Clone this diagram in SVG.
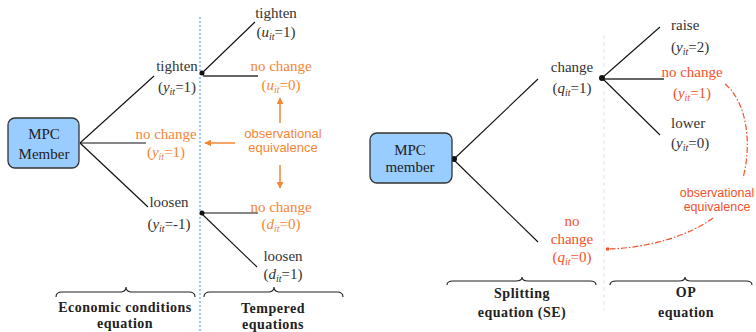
<svg xmlns="http://www.w3.org/2000/svg" width="756" height="332" viewBox="0 0 756 332">
<defs>
<style>
.lbl{font-family:"Liberation Serif",serif;font-size:15px;fill:#333;text-anchor:middle}
.or{fill:#f58634}
.rd{fill:#f4522c}
.obs{font-family:"Liberation Sans",Arial,sans-serif;font-size:13px;text-anchor:middle}
.hd{font-family:"Liberation Serif",serif;font-size:14px;font-weight:bold;fill:#222;text-anchor:middle;letter-spacing:0.5px}
.it{font-style:italic}
.box{fill:#99ccff;stroke:#333;stroke-width:1.3}
.ln{stroke:#111;stroke-width:1.1;fill:none}
.gl{stroke:#666;stroke-width:2;fill:none}
.br{stroke:#222;stroke-width:1.1;fill:none}
.oa{stroke:#f58634;stroke-width:1.5;fill:none;marker-end:url(#ah)}
</style>
<marker id="ah" viewBox="0 0 10 10" refX="9" refY="5" markerWidth="7" markerHeight="7" markerUnits="userSpaceOnUse" orient="auto">
<path d="M0,0 L10,5 L0,10 z" fill="#f58634"/>
</marker>
</defs>

<!-- separators -->
<line x1="200" y1="17" x2="200" y2="332" stroke="#7ab8f5" stroke-width="1.5" stroke-dasharray="2 2"/>
<line x1="604" y1="35" x2="604" y2="310" stroke="#dde4f0" stroke-width="1" stroke-dasharray="4 3"/>

<!-- connectors -->
<g id="connectors">
<line class="ln" x1="80" y1="143" x2="154" y2="76"/>
<line class="ln" x1="80" y1="143" x2="146" y2="143"/>
<line class="ln" x1="80" y1="143" x2="148" y2="207"/>
<line class="ln" x1="202" y1="73" x2="255" y2="22"/>
<line class="gl" x1="203" y1="76" x2="258" y2="76"/>
<line class="ln" x1="202" y1="213" x2="258" y2="213"/>
<line class="ln" x1="202" y1="214" x2="257" y2="267"/>
<line class="oa" x1="280" y1="123" x2="280" y2="98"/>
<line class="oa" x1="235" y1="143" x2="205" y2="143"/>
<line class="oa" x1="280" y1="165" x2="280" y2="188"/>
<line class="ln" x1="454" y1="159" x2="538" y2="79"/>
<line class="ln" x1="454" y1="160" x2="538" y2="242"/>
<line class="ln" x1="602" y1="78" x2="660" y2="27"/>
<line class="gl" x1="602" y1="79" x2="664" y2="79"/>
<line class="ln" x1="602" y1="78" x2="660" y2="135"/>
<path d="M725,84 C745,100 753,140 743,178" stroke="#f4522c" stroke-width="1.2" fill="none" stroke-dasharray="6 2 1.5 2"/>
<path d="M713,218 C690,235 650,248 608,249" stroke="#f4522c" stroke-width="1.2" fill="none" stroke-dasharray="6 2 1.5 2"/>
<rect x="606" y="247.5" width="3" height="3" fill="#f4522c"/>
<circle cx="202" cy="73" r="2.5" fill="#111"/>
<circle cx="202" cy="213" r="2.5" fill="#111"/>
<circle cx="454" cy="159" r="3" fill="#111"/>
<circle cx="602" cy="78" r="3" fill="#111"/>
</g>

<!-- left tree -->
<g id="mpc-left">
<rect class="box" x="8" y="118" width="71" height="50" rx="7"/>
<text class="lbl" x="44" y="139" style="fill:#222">MPC</text>
<text class="lbl" x="44" y="159" style="fill:#222">Member</text>
</g>
<g id="y-tighten">
<text class="lbl" x="177" y="71">tighten</text>
<text class="lbl" x="177" y="92">(<tspan class="it">y</tspan><tspan class="it" font-size="10" dy="3">it</tspan><tspan dy="-3">=1)</tspan></text>
</g>
<g id="y-nochange">
<text class="lbl or" x="166" y="139">no change</text>
<text class="lbl or" x="166" y="157">(<tspan class="it">y</tspan><tspan class="it" font-size="10" dy="3">it</tspan><tspan dy="-3">=1)</tspan></text>
</g>
<g id="y-loosen">
<text class="lbl" x="169" y="207">loosen</text>
<text class="lbl" x="169" y="229">(<tspan class="it">y</tspan><tspan class="it" font-size="10" dy="3">it</tspan><tspan dy="-3">=-1)</tspan></text>
</g>
<g id="u-tighten">
<text class="lbl" x="276" y="18">tighten</text>
<text class="lbl" x="276" y="37">(<tspan class="it">u</tspan><tspan class="it" font-size="10" dy="3">it</tspan><tspan dy="-3">=1)</tspan></text>
</g>
<g id="u-nochange">
<text class="lbl or" x="281" y="71">no change</text>
<text class="lbl or" x="281" y="90">(<tspan class="it">u</tspan><tspan class="it" font-size="10" dy="3">it</tspan><tspan dy="-3">=0)</tspan></text>
</g>
<g id="obs-left">
<text class="obs or" x="283" y="138">observational</text>
<text class="obs or" x="283" y="152">equivalence</text>
</g>
<g id="d-nochange">
<text class="lbl or" x="281" y="212">no change</text>
<text class="lbl or" x="281" y="229">(<tspan class="it">d</tspan><tspan class="it" font-size="10" dy="3">it</tspan><tspan dy="-3">=0)</tspan></text>
</g>
<g id="d-loosen">
<text class="lbl" x="283" y="261">loosen</text>
<text class="lbl" x="283" y="279">(<tspan class="it">d</tspan><tspan class="it" font-size="10" dy="3">it</tspan><tspan dy="-3">=1)</tspan></text>
</g>
<g id="brace-econ">
<path class="br" d="M56,297 Q56,292 62,292 L120,292 Q126,292 126,287 Q126,292 132,292 L189,292 Q195,292 195,297"/>
<text class="hd" x="125" y="312">Economic conditions</text>
<text class="hd" x="125" y="328">equation</text>
</g>
<g id="brace-temp">
<path class="br" d="M204,297 Q204,292 210,292 L268,292 Q274,292 274,287 Q274,292 280,292 L337,292 Q343,292 343,297"/>
<text class="hd" x="273" y="313">Tempered</text>
<text class="hd" x="273" y="329">equations</text>
</g>

<!-- right tree -->
<g id="mpc-right">
<rect class="box" x="370" y="133" width="82" height="50" rx="7"/>
<text class="lbl" x="410" y="155" style="fill:#222">MPC</text>
<text class="lbl" x="410" y="172" style="fill:#222">member</text>
</g>
<g id="q-change">
<text class="lbl" x="572" y="72">change</text>
<text class="lbl" x="572" y="93">(<tspan class="it">q</tspan><tspan class="it" font-size="10" dy="3">it</tspan><tspan dy="-3">=1)</tspan></text>
</g>
<g id="q-nochange">
<text class="lbl rd" x="572" y="226">no</text>
<text class="lbl rd" x="572" y="244">change</text>
<text class="lbl rd" x="572" y="262">(<tspan class="it">q</tspan><tspan class="it" font-size="10" dy="3">it</tspan><tspan dy="-3">=0)</tspan></text>
</g>
<g id="y-raise">
<text class="lbl" x="671" y="30" style="text-anchor:start">raise</text>
<text class="lbl" x="671" y="52" style="text-anchor:start">(<tspan class="it">y</tspan><tspan class="it" font-size="10" dy="3">it</tspan><tspan dy="-3">=2)</tspan></text>
</g>
<g id="y-nochange-r">
<text class="lbl rd" x="692" y="77">no change</text>
<text class="lbl rd" x="692" y="98">(<tspan class="it">y</tspan><tspan class="it" font-size="10" dy="3">it</tspan><tspan dy="-3">=1)</tspan></text>
</g>
<g id="y-lower">
<text class="lbl" x="671" y="128" style="text-anchor:start">lower</text>
<text class="lbl" x="671" y="148" style="text-anchor:start">(<tspan class="it">y</tspan><tspan class="it" font-size="10" dy="3">it</tspan><tspan dy="-3">=0)</tspan></text>
</g>
<g id="obs-right">
<text class="obs rd" x="717" y="197" style="font-size:12.5px">observational</text>
<text class="obs rd" x="717" y="211" style="font-size:12.5px">equivalence</text>
</g>
<g id="brace-se">
<path class="br" d="M447,285 Q447,281 453,281 L516,281 Q522,281 522,277 Q522,281 528,281 L590,281 Q596,281 596,285"/>
<text class="hd" x="522" y="298">Splitting</text>
<text class="hd" x="522" y="317">equation (SE)</text>
</g>
<g id="brace-op">
<path class="br" d="M610,285 Q610,281 616,281 L679,281 Q685,281 685,277 Q685,281 691,281 L746,281 Q752,281 752,285"/>
<text class="hd" x="686" y="297">OP</text>
<text class="hd" x="686" y="317">equation</text>
</g>
</svg>
